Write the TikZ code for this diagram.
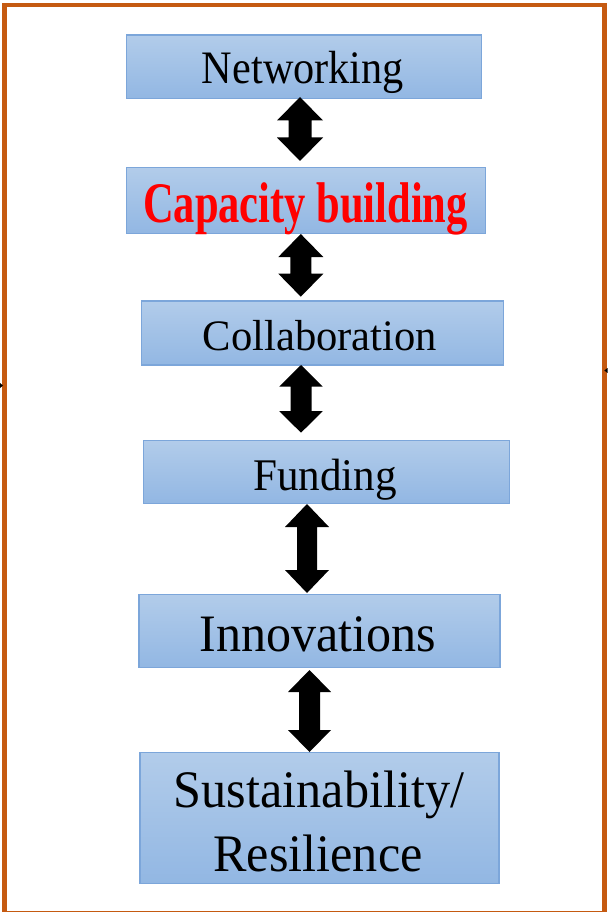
\documentclass[tikz,border=0pt]{standalone}
\usepackage{fontspec}
\setmainfont{Liberation Serif}
\usepackage{graphicx}
\definecolor{frameorange}{RGB}{197,90,17}
\definecolor{boxtop}{RGB}{178,204,234}
\definecolor{boxbot}{RGB}{146,183,227}
\definecolor{boxline}{RGB}{124,166,218}
\newcommand\bkarrow[6]{%
  \fill[black] (#1,#2) -- (#1+#4,#2+#6) -- (#1+#5,#2+#6) -- (#1+#5,#3-#6) -- (#1+#4,#3-#6)
    -- (#1,#3) -- (#1-#4,#3-#6) -- (#1-#5,#3-#6) -- (#1-#5,#2+#6) -- (#1-#4,#2+#6) -- cycle;}
\begin{document}
\begin{tikzpicture}[x=1pt,y=-1pt,
  flowbox/.style={rectangle, draw=boxline, line width=1.1pt, top color=boxtop, bottom color=boxbot, inner sep=0pt},
  lbl/.style={anchor=base, inner sep=0pt, text=black}]
\useasboundingbox (0,0) rectangle (608,912);
\clip (0,0) rectangle (608,912);
\fill[white] (0,0) rectangle (608,912);
% frame
\draw[frameorange, line width=4.8pt] (4.3,5) rectangle (604.3,913.5);
% small side marks
\fill[black] (0,383) -- (3,385.5) -- (0,388) -- cycle;
\fill[black] (607.5,368) -- (604.3,370.5) -- (607.5,373) -- cycle;
% boxes
\node[flowbox, minimum width=355pt, minimum height=63.3pt] (b1) at (304.2,66.7) {};
\node[flowbox, minimum width=359pt, minimum height=66pt] (b2) at (306.2,200.3) {};
\node[flowbox, minimum width=361.6pt, minimum height=64pt] (b3) at (322.5,333) {};
\node[flowbox, minimum width=365.7pt, minimum height=63.3pt] (b4) at (326.2,471.7) {};
\node[flowbox, minimum width=361pt, minimum height=73.3pt] (b5) at (319.5,630.7) {};
\node[flowbox, minimum width=359pt, minimum height=130.6pt] (b6) at (319.5,818) {};
% texts
\node[lbl] (t1) at (303,84) {\scalebox{1}[1.1]{\fontsize{42.3pt}{50pt}\selectfont Networking}};
\node[lbl, text=red] (t2) at (305.5,222.5) {\scalebox{1}[1.35]{\fontsize{42.5pt}{50pt}\selectfont\bfseries Capacity building}};
\node[lbl] (t3) at (320,350) {\scalebox{1}[1.02]{\fontsize{42.6pt}{50pt}\selectfont Collaboration}};
\node[lbl] (t4) at (325,490) {\scalebox{1}[1.05]{\fontsize{43.1pt}{50pt}\selectfont Funding}};
\node[lbl] (t5) at (318,651.5) {\scalebox{1}[1.05]{\fontsize{50.1pt}{60pt}\selectfont Innovations}};
\node[lbl] (t6a) at (319,807) {\scalebox{1}[1.05]{\fontsize{50.2pt}{60pt}\selectfont Sustainability/}};
\node[lbl] (t6b) at (318,871) {\scalebox{1}[1.05]{\fontsize{50.2pt}{60pt}\selectfont Resilience}};
% block arrows
\bkarrow{300}{97}{161}{23}{11.5}{23.5}
\bkarrow{300.8}{234}{296.7}{22.5}{10.5}{23}
\bkarrow{301}{365}{432.7}{21.7}{10.5}{21.5}
\bkarrow{307}{504}{593}{22}{10}{23}
\bkarrow{309.5}{670}{752}{21.5}{10.5}{22}
\end{tikzpicture}
\end{document}
